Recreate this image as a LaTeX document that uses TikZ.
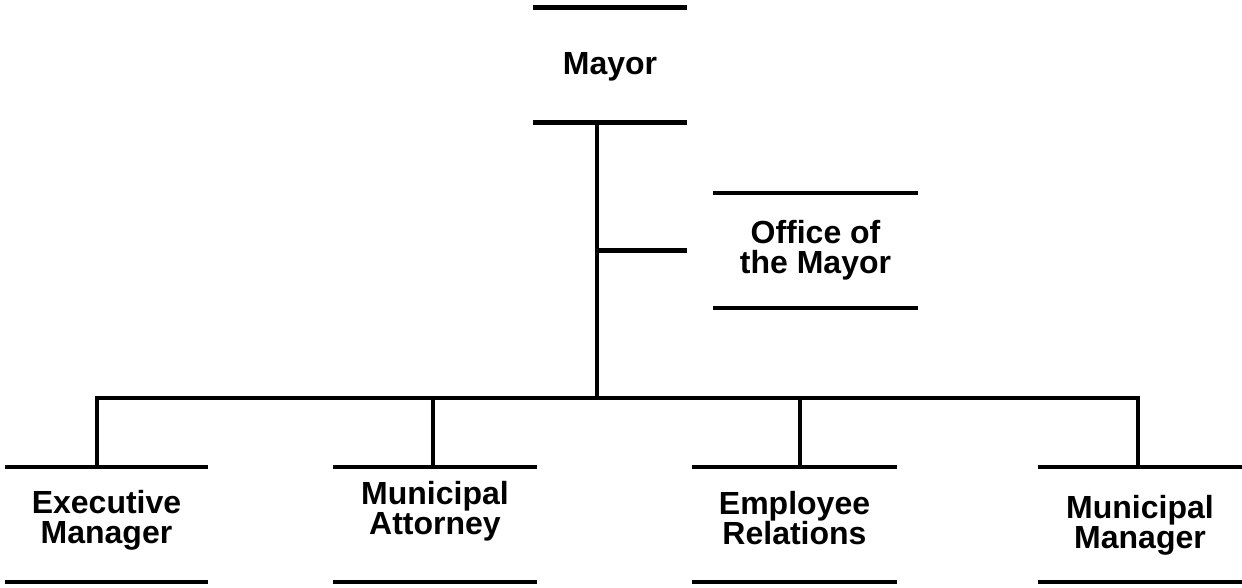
\documentclass[tikz,border=0pt]{standalone}
\usepackage{fontspec}
\setmainfont{Liberation Sans}
\usetikzlibrary{calc}
\tikzset{
    post/.style =   {rectangle,
                    draw=none,
                    text=black,
                    align=center,
                    inner sep=0pt,
                    text height=60pt,
                    minimum width=204pt,
                    minimum height=115pt,
                    font=\bfseries\fontsize{32}{30}\selectfont},
    rule/.style =   {draw=black,
                    line width=4.5pt},
    link/.style =   {draw=black,
                    line width=4.5pt},
    elbow/.style =  {to path={-| (\tikztotarget)}},
    -}

\begin{document}
\begin{tikzpicture}[x=1pt,y=-1pt]
            \useasboundingbox (0,0) rectangle (1242,588);

            \node[post, minimum width=154pt, text height=23pt, text depth=3pt] (mayor)  at (610,65)      {Mayor};
            \node[post, minimum width=205pt, text depth=15pt]  (office) at (815.5,250.5) {Office of\\the Mayor};
            \node[post, minimum width=203pt, text depth=23pt]  (exec)   at (106.5,524.5) {Executive\\Manager};
            \node[post, text depth=41pt]                       (atty)   at (435,524.5)   {Municipal\\Attorney};
            \node[post, minimum width=205pt, text depth=21pt]  (empl)   at (794.5,524.5) {Employee\\Relations};
            \node[post, text depth=13pt]                       (mgr)    at (1140,524.5)  {Municipal\\Manager};

            \coordinate (bus) at (597,398);

            % top and bottom rules of each post
            \foreach \n in {mayor,office,exec,atty,empl,mgr}
                \draw[rule] (\n.north west) -- (\n.north east)
                            (\n.south west) -- (\n.south east);

            \path [link]    ([xshift=-13pt]mayor.south) edge []      (bus)
                            (bus |- office.west)        edge []      ([xshift=-26pt]office.west)
                            (bus)                       edge [elbow] ([xshift=-9.5pt]exec.north)
                            (bus)                       edge [elbow] ([xshift=-2pt]atty.north)
                            (bus)                       edge [elbow] ([xshift=5.5pt]empl.north)
                            (bus)                       edge [elbow] ([xshift=-2pt]mgr.north);
        \end{tikzpicture}
\end{document}
